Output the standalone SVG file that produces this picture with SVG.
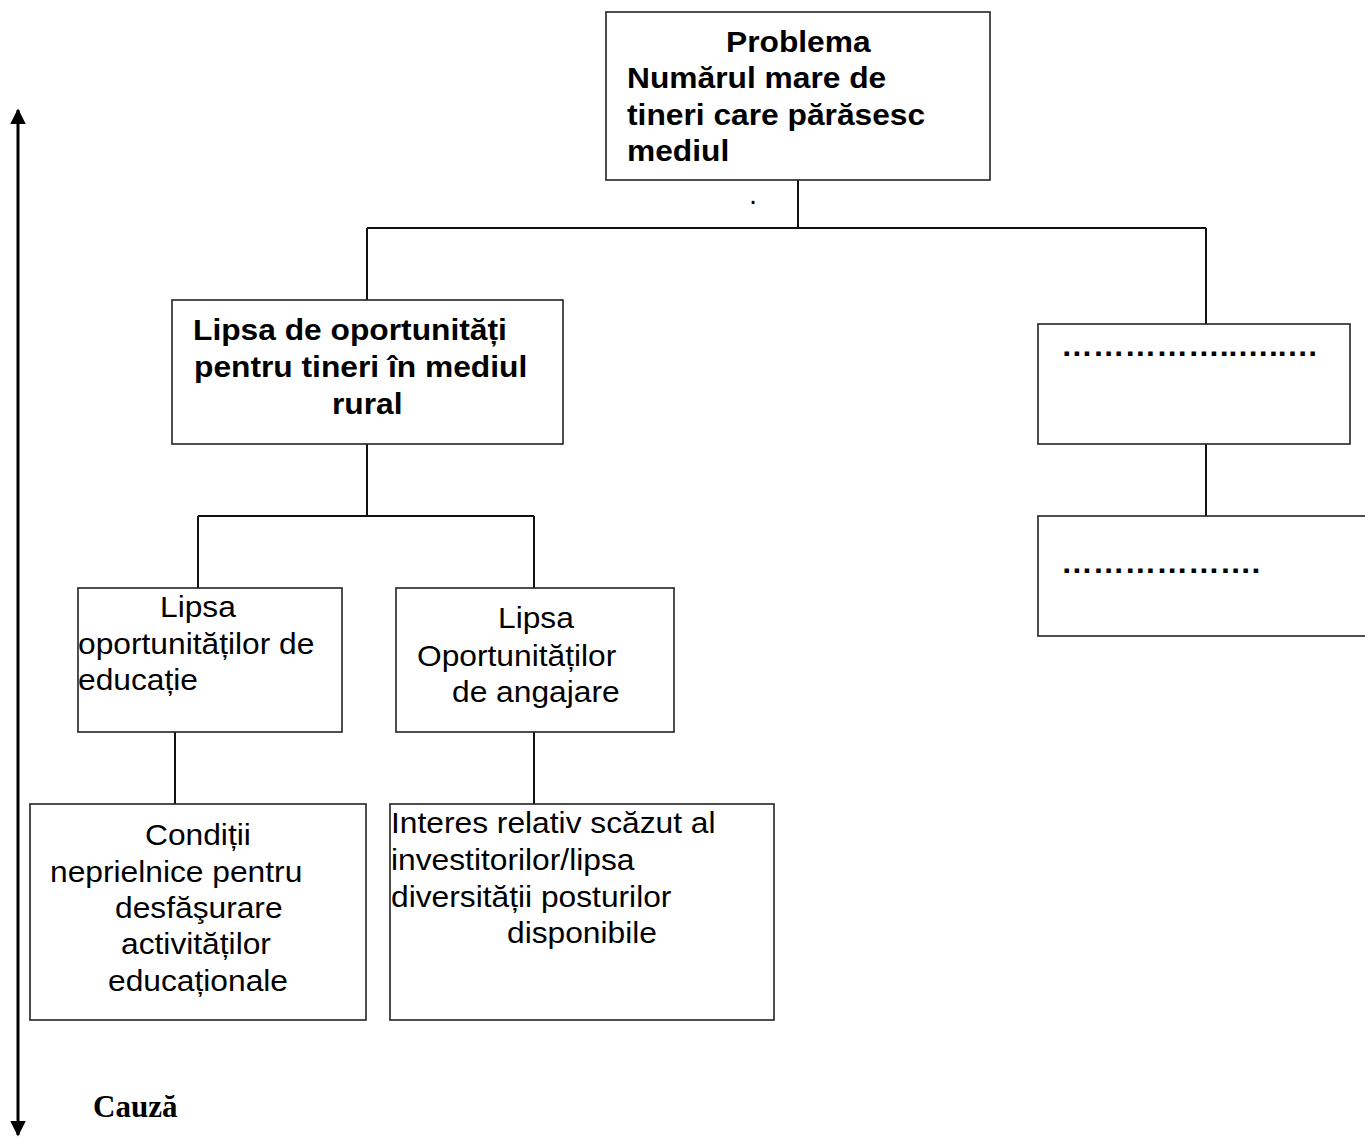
<svg xmlns="http://www.w3.org/2000/svg" width="1365" height="1137" viewBox="0 0 1365 1137">
  <style>
    .box { fill: #ffffff; stroke: #222222; stroke-width: 1.6; }
    .link { fill: none; stroke: #111111; stroke-width: 2; }
    .axis { fill: none; stroke: #000000; stroke-width: 3; }
    .t { font-family: "Liberation Sans", Arial, sans-serif; font-size: 29px; fill: #000000; }
    .b { font-weight: bold; }
    .serif { font-family: "Liberation Serif", "Times New Roman", serif; font-size: 31px; font-weight: bold; fill: #000000; }
  </style>
  <defs>
    <marker id="head" viewBox="0 0 10 10" refX="9" refY="5" markerWidth="5.2" markerHeight="5.2" markerUnits="strokeWidth" orient="auto-start-reverse">
      <path d="M0,0 L10,5 L0,10 Z" fill="#000000"/>
    </marker>
  </defs>
  <rect width="1365" height="1137" fill="#ffffff"/>

  <!-- vertical cause axis -->
  <g id="axis">
    <line class="axis" x1="18" y1="110" x2="18" y2="1135" marker-start="url(#head)" marker-end="url(#head)"/>
    <text class="serif" x="93" y="1117">Cauză</text>
  </g>

  <!-- tree connectors -->
  <g id="connectors">
    <path class="link" d="M798,180 V228 M367,228 H1206 M367,228 V300 M1206,228 V324"/>
    <path class="link" d="M367,444 V516 M198,516 H534 M198,516 V588 M534,516 V588"/>
    <path class="link" d="M175,732 V804 M534,732 V804"/>
    <path class="link" d="M1206,444 V516"/>
  </g>

  <g id="problem">
    <rect class="box" x="606" y="12" width="384" height="168"/>
    <text class="t b" transform="translate(726,52) scale(1.095,1)">Problema</text>
    <text class="t b" transform="translate(627,88) scale(1.095,1)">Numărul mare de</text>
    <text class="t b" transform="translate(627,125) scale(1.095,1)">tineri care părăsesc</text>
    <text class="t b" transform="translate(627,161) scale(1.095,1)">mediul</text>
    <text class="t" transform="translate(749,204)" font-size="8">.</text>
  </g>

  <g id="cause-rural">
    <rect class="box" x="172" y="300" width="391" height="144"/>
    <text class="t b" transform="translate(193,340) scale(1.095,1)">Lipsa de oportunități</text>
    <text class="t b" transform="translate(194,377) scale(1.095,1)">pentru tineri în mediul</text>
    <text class="t b" transform="translate(332,414) scale(1.095,1)">rural</text>
  </g>

  <g id="cause-other">
    <rect class="box" x="1038" y="324" width="312" height="120"/>
    <text class="t b" transform="translate(1061,356) scale(1.095,1)">……………..…..…</text>
  </g>

  <g id="cause-other-sub">
    <rect class="box" x="1038" y="516" width="340" height="120"/>
    <text class="t b" transform="translate(1061,573) scale(1.095,1)">……………….</text>
  </g>

  <g id="education">
    <rect class="box" x="78" y="588" width="264" height="144"/>
    <text class="t" transform="translate(160,617) scale(1.095,1)">Lipsa</text>
    <text class="t" transform="translate(78,654) scale(1.095,1)">oportunităților de</text>
    <text class="t" transform="translate(78,690) scale(1.095,1)">educație</text>
  </g>

  <g id="employment">
    <rect class="box" x="396" y="588" width="278" height="144"/>
    <text class="t" transform="translate(498,628) scale(1.095,1)">Lipsa</text>
    <text class="t" transform="translate(417,666) scale(1.095,1)">Oportunităților</text>
    <text class="t" transform="translate(452,702) scale(1.095,1)">de angajare</text>
  </g>

  <g id="conditions">
    <rect class="box" x="30" y="804" width="336" height="216"/>
    <text class="t" transform="translate(145,845) scale(1.095,1)">Condiții</text>
    <text class="t" transform="translate(50,882) scale(1.095,1)">neprielnice pentru</text>
    <text class="t" transform="translate(115,918) scale(1.095,1)">desfăşurare</text>
    <text class="t" transform="translate(121,954) scale(1.095,1)">activităților</text>
    <text class="t" transform="translate(108,991) scale(1.095,1)">educaționale</text>
  </g>

  <g id="investors">
    <rect class="box" x="390" y="804" width="384" height="216"/>
    <text class="t" transform="translate(391,833) scale(1.095,1)">Interes relativ scăzut al</text>
    <text class="t" transform="translate(391,870) scale(1.095,1)">investitorilor/lipsa</text>
    <text class="t" transform="translate(391,907) scale(1.095,1)">diversității posturilor</text>
    <text class="t" transform="translate(507,943) scale(1.095,1)">disponibile</text>
  </g>
</svg>
